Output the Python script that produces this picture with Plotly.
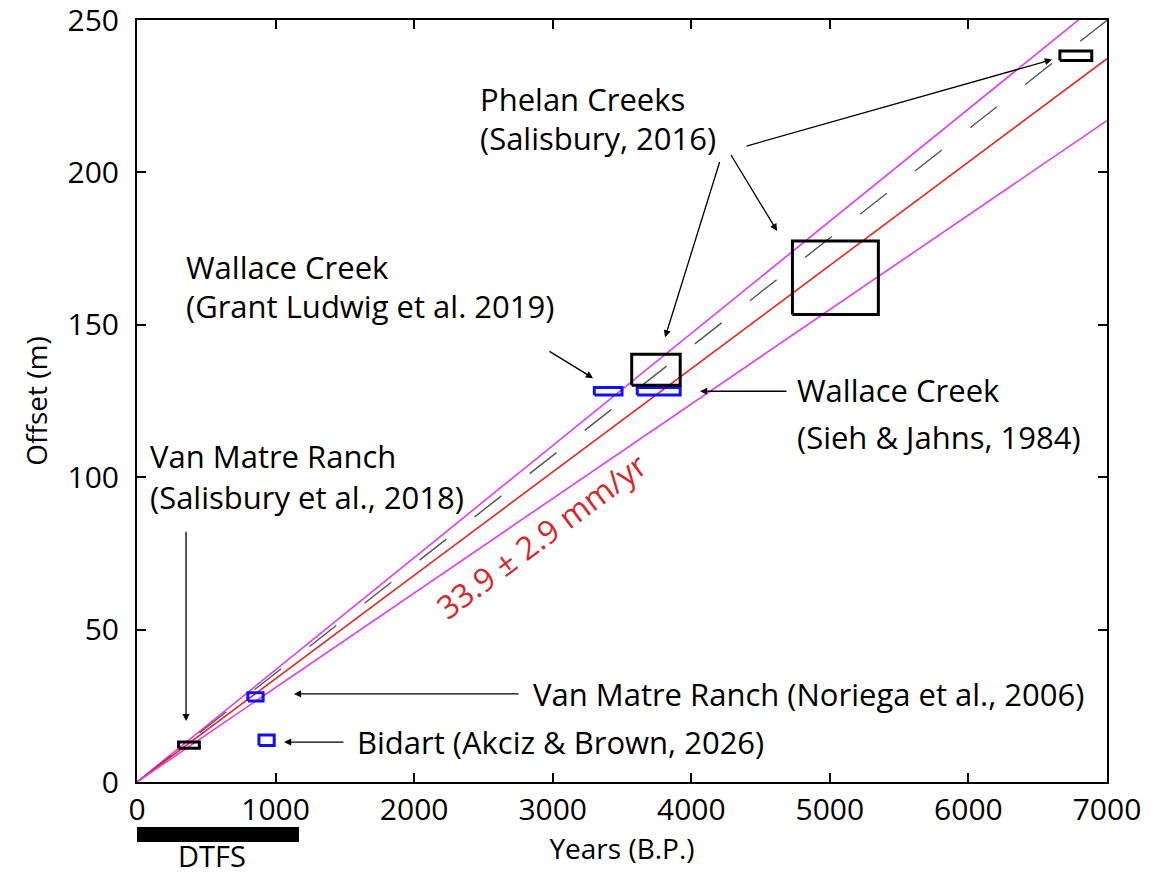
import plotly.graph_objects as go

# ---- data ----
rate_names = ["upper", "dashed", "best", "lower"]
rates_mm_yr = [36.8, 35.7, 33.9, 31.0]
rate_colors = ["#e03cf2", "#555555", "#e8261f", "#e03cf2"]
rate_dash = ["solid", "34px,36px", "solid", "solid"]
x_line = [0, 7000]

box_names = ["Van Matre Ranch (Salisbury)", "Van Matre Ranch (Noriega)", "Bidart",
             "Wallace Creek (Grant Ludwig)", "Wallace Creek (Sieh & Jahns)",
             "Phelan small", "Phelan large", "Phelan top"]
box_x0 = [300, 800, 880, 3300, 3610, 3570, 4730, 6660]
box_x1 = [450, 910, 990, 3500, 3920, 3920, 5350, 6890]
box_y0 = [11.1, 26.6, 12.0, 127.0, 127.0, 130.2, 153.4, 236.7]
box_y1 = [13.1, 29.3, 15.4, 129.4, 129.4, 140.3, 177.5, 239.8]
box_colors = ["black", "#1010ff", "#1010ff", "#1010ff", "#1010ff", "black", "black", "black"]

x_ticks = [0, 1000, 2000, 3000, 4000, 5000, 6000, 7000]
y_ticks = [0, 50, 100, 150, 200, 250]

FONT = "Open Sans"
fig = go.Figure()

for name, r, c, d in zip(rate_names, rates_mm_yr, rate_colors, rate_dash):
    xs = x_line if d == "solid" else x_line[::-1]
    fig.add_trace(go.Scatter(x=xs, y=[r * xx / 1000 for xx in xs], mode="lines",
                             line=dict(color=c, width=1.6 if d == "solid" else 1.4, dash=d),
                             name=name, showlegend=False, hoverinfo="skip"))

for n, x0, x1, y0, y1, c in zip(box_names, box_x0, box_x1, box_y0, box_y1, box_colors):
    fig.add_trace(go.Scatter(x=[x0, x1, x1, x0, x0], y=[y0, y0, y1, y1, y0], mode="lines",
                             line=dict(color=c, width=3), name=n, showlegend=False))

ann_font = dict(family=FONT, size=31, color="black")

def text(x, y, s):
    fig.add_annotation(x=x, y=y, xref="x", yref="y", text=s, showarrow=False,
                       xanchor="left", yanchor="middle", font=ann_font, borderpad=0)

def arrow(x0, y0, x1, y1):
    fig.add_annotation(x=x1, y=y1, ax=x0, ay=y0, xref="x", yref="y", axref="x", ayref="y",
                       text="", showarrow=True, arrowhead=2, arrowsize=1.1, arrowwidth=1.3,
                       arrowcolor="black")

text(2465, 224.0, "Phelan Creeks")
text(2465, 211.3, "(Salisbury, 2016)")
arrow(4388, 208.5, 6603, 237.0)
arrow(4280, 206.2, 4619, 180.8)
arrow(4208, 203.9, 3811, 145.9)

text(345, 168.9, "Wallace Creek")
text(345, 156.1, "(Grant Ludwig et al. 2019)")
arrow(2966, 141.6, 3291, 132.5)

text(4755, 128.5, "Wallace Creek")
text(4755, 113.1, "(Sieh &amp; Jahns, 1984)")
arrow(4698, 128.2, 4063, 128.2)

text(85, 106.9, "Van Matre Ranch")
text(85, 93.4, "(Salisbury et al., 2018)")
arrow(354, 82.6, 354, 20.0)

text(2850, 28.9, "Van Matre Ranch (Noriega et al., 2006)")
arrow(2764, 28.9, 1133, 28.9)

text(1580, 13.1, "Bidart (Akciz &amp; Brown, 2026)")
arrow(1501, 13.1, 1061, 13.1)

fig.add_annotation(x=2916, y=81.0, xref="x", yref="y", text="33.9 ± 2.9 mm/yr",
                   showarrow=False, textangle=-36.7,
                   font=dict(family=FONT, size=32, color="#d42a2e"))

# DTFS bar below axis
fig.add_shape(type="rect", xref="x", yref="paper", x0=-43, x1=1169, y0=-0.0787, y1=-0.059,
              fillcolor="black", line=dict(width=0))
fig.add_annotation(x=541, y=-0.0965, xref="x", yref="paper", text="DTFS", showarrow=False,
                   xanchor="center", yanchor="middle", borderpad=0,
                   font=dict(family=FONT, size=29, color="black"))

axis_common = dict(showgrid=False, zeroline=False, showline=True, linecolor="black",
                   linewidth=2, mirror="ticks", ticks="inside", ticklen=9, tickwidth=1.5,
                   tickcolor="black", ticklabeloverflow="allow",
                   tickfont=dict(family=FONT, size=30, color="black"))

fig.update_xaxes(range=[0, 7000], tickvals=x_ticks, ticktext=[str(v) for v in x_ticks],
                 title=dict(text="Years (B.P.)", font=dict(family=FONT, size=28, color="black"),
                            standoff=10),
                 **axis_common)
fig.update_yaxes(range=[0, 250], tickvals=y_ticks, ticktext=[str(v) for v in y_ticks],
                 ticklabelstandoff=10,
                 title=dict(text="Offset (m)", font=dict(family=FONT, size=28, color="black"),
                            standoff=12),
                 **axis_common)

# page body has an 8px margin, so the plot area is shifted 8px up/left
fig.update_layout(width=1168, height=875, plot_bgcolor="white", paper_bgcolor="white",
                  margin=dict(l=129, r=69, t=12, b=101, autoexpand=False), showlegend=False)

fig.write_html("out.html")
